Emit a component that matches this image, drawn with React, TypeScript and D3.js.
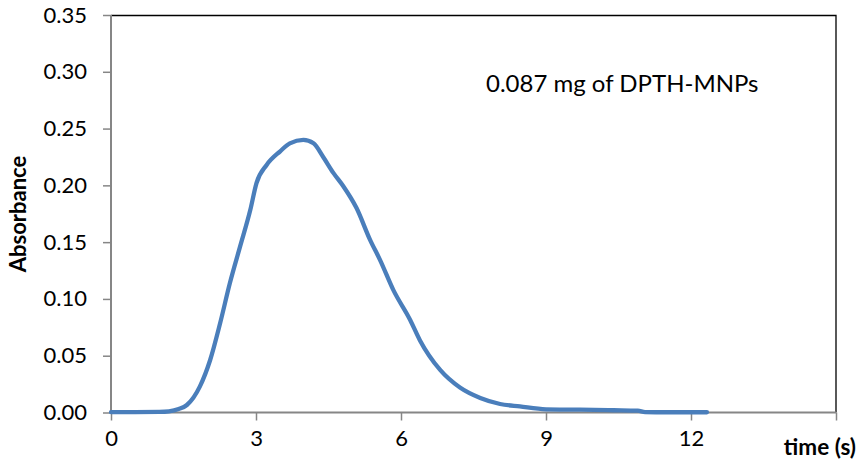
import React, { useRef, useEffect } from "react";
import * as d3 from "d3";

// time (s) and absorbance
const timeValues = [
  0, 0.5, 1.0, 1.2, 1.4, 1.57, 1.84, 2.05, 2.26, 2.46, 2.67, 2.88, 3.01, 3.22,
  3.5, 3.7, 3.98, 4.19, 4.39, 4.6, 4.81, 5.08, 5.36, 5.57, 5.84, 6.19, 6.39,
  6.81, 7.22, 7.64, 8.05, 8.46, 9.0, 9.7, 10.4, 10.9, 11.05, 11.6, 12.33,
];
const absorbanceValues = [
  0.0003, 0.0003, 0.0005, 0.001, 0.003, 0.0066, 0.023, 0.046, 0.079, 0.114,
  0.146, 0.178, 0.202, 0.218, 0.23, 0.237, 0.24, 0.237, 0.225, 0.211, 0.199,
  0.18, 0.152, 0.134, 0.108, 0.0815, 0.0637, 0.0375, 0.022, 0.0128, 0.0075,
  0.0053, 0.0028, 0.0025, 0.002, 0.0016, 0.0003, 0.0002, 0.0002,
];
const xTicks = [0, 3, 6, 9, 12, 15];
const yTicks = [0, 0.05, 0.1, 0.15, 0.2, 0.25, 0.3, 0.35];
const xTickLabels = ["0", "3", "6", "9", "12", ""];
const annotation = "0.087 mg of DPTH-MNPs";
const xTitle = "time (s)";
const yTitle = "Absorbance";

const App = () => {
  const svgRef = useRef<SVGSVGElement>(null);

  useEffect(() => {
    const width = 861;
    const height = 468;
    const margin = { top: 15, right: 25, bottom: 55.5, left: 111 };
    const innerW = width - margin.left - margin.right;
    const innerH = height - margin.top - margin.bottom;
    const font = "Lato, 'Open Sans', sans-serif";
    const axisGrey = "#868686";

    const svg = d3.select(svgRef.current).attr("width", width).attr("height", height);
    svg.selectAll("*").remove();

    const x = d3.scaleLinear().domain([0, 15]).range([0, innerW]);
    const y = d3.scaleLinear().domain([0, 0.35]).range([innerH, 0]);

    const g = svg
      .append("g")
      .attr("transform", `translate(${margin.left},${margin.top})`);

    // black frame on top and right
    g.append("path")
      .attr("d", `M0,0.5H${innerW}V${innerH}`)
      .attr("fill", "none")
      .attr("stroke", "#000")
      .attr("stroke-width", 1.3);

    const yAxis = g
      .append("g")
      .call(
        d3
          .axisLeft(y)
          .tickValues(yTicks)
          .tickSize(8)
          .tickPadding(16)
          .tickFormat(d3.format(".2f") as any)
      );
    const xAxis = g
      .append("g")
      .attr("transform", `translate(0,${innerH})`)
      .call(
        d3
          .axisBottom(x)
          .tickValues(xTicks)
          .tickSize(8)
          .tickPadding(10)
          .tickFormat((d, i) => xTickLabels[i])
      );

    [xAxis, yAxis].forEach((a) => {
      a.select(".domain").attr("stroke", axisGrey).attr("stroke-width", 2);
      a.selectAll(".tick line").attr("stroke", axisGrey).attr("stroke-width", 1.5);
      a.selectAll("text")
        .attr("fill", "#000")
        .attr("font-family", font)
        .attr("font-size", 22);
    });
    // redraw domains without the outer tick ends
    yAxis.select(".domain").attr("d", `M0,0V${innerH}`);
    xAxis.select(".domain").attr("d", `M0,0H${innerW}`);

    const line = d3
      .line<number>()
      .x((d, i) => x(timeValues[i]))
      .y((d) => y(d))
      .curve(d3.curveMonotoneX);

    g.append("path")
      .datum(absorbanceValues)
      .attr("d", line)
      .attr("fill", "none")
      .attr("stroke", "#4a7ebb")
      .attr("stroke-width", 4.3)
      .attr("stroke-linejoin", "round")
      .attr("stroke-linecap", "round");

    svg
      .append("text")
      .attr("x", 486)
      .attr("y", 92)
      .attr("font-family", font)
      .attr("font-size", 24)
      .text(annotation);

    svg
      .append("text")
      .attr("x", 856)
      .attr("y", 455)
      .attr("text-anchor", "end")
      .attr("font-family", font)
      .attr("font-weight", "bold")
      .attr("font-size", 22.5)
      .text(xTitle);

    svg
      .append("text")
      .attr("transform", "translate(26,214) rotate(-90)")
      .attr("text-anchor", "middle")
      .attr("font-family", font)
      .attr("font-weight", "bold")
      .attr("font-size", 22)
      .text(yTitle);
  }, []);

  return (
    <svg
      ref={svgRef}
      style={{ position: "absolute", left: 0, top: 0, background: "#fff" }}
    ></svg>
  );
};

export default App;
